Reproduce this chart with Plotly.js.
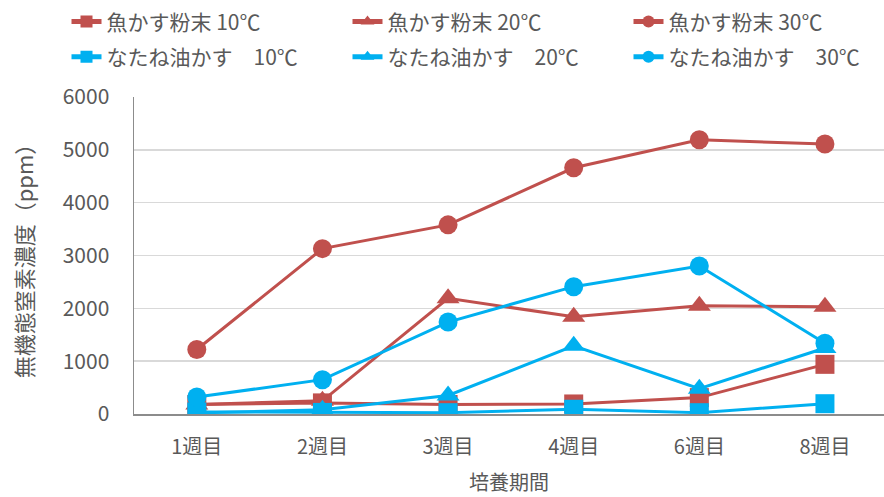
<!DOCTYPE html>
<html>
<head>
<meta charset="utf-8">
<script src="https://cdn.plot.ly/plotly-3.0.1.min.js"></script>
<style>
  html, body { margin: 0; padding: 0; background: #fff; }
  #chart { width: 884px; height: 497px; }
</style>
</head>
<body>
<div id="chart"></div>
<script>
// Culture period (weeks)
const weeks = ['1週目', '2週目', '3週目', '4週目', '6週目', '8週目'];

// Inorganic nitrogen concentration (ppm)
const fishMeal10 = [180, 210, 180, 190, 310, 940];
const fishMeal20 = [180, 250, 2190, 1840, 2050, 2030];
const fishMeal30 = [1220, 3130, 3580, 4660, 5190, 5110];
const rapeseed10 = [40, 30, 25, 90, 25, 195];
const rapeseed20 = [20, 80, 350, 1290, 480, 1250];
const rapeseed30 = [320, 650, 1740, 2410, 2800, 1340];

const seriesNames = [
  '魚かす粉末 10℃', '魚かす粉末 20℃', '魚かす粉末 30℃',
  'なたね油かす　10℃', 'なたね油かす　20℃', 'なたね油かす　30℃'
];

const RED = '#C0504D';
const BLUE = '#00B0F0';
const FONT = '"Noto Sans CJK JP", "Noto Sans", sans-serif';
const TEXT = '#595959';

function series(values, name, color, symbol, legend, itemWidth) {
  return {
    x: weeks, y: values, name: name, type: 'scatter', mode: 'lines+markers',
    line: { color: color, width: 3 },
    marker: { color: color, symbol: symbol, size: symbol === 'triangle-up' ? 20 : 19 },
    legend: legend,
    legendwidth: itemWidth
  };
}

// the last column of each legend row only needs room for its own text
const data = [
  series(fishMeal10, seriesNames[0], RED, 'square', 'legend', 236),
  series(fishMeal20, seriesNames[1], RED, 'triangle-up', 'legend', 236),
  series(fishMeal30, seriesNames[2], RED, 'circle', 'legend', 200),
  series(rapeseed10, seriesNames[3], BLUE, 'square', 'legend2', 236),
  series(rapeseed20, seriesNames[4], BLUE, 'triangle-up', 'legend2', 236),
  series(rapeseed30, seriesNames[5], BLUE, 'circle', 'legend2', 200)
];

const legendBase = {
  orientation: 'h', xanchor: 'left', yanchor: 'middle',
  x: -0.09, entrywidthmode: 'pixels',
  font: { family: FONT, size: 21, color: TEXT },
  bgcolor: 'rgba(0,0,0,0)', itemsizing: 'constant'
};

const layout = {
  width: 884, height: 497,
  margin: { l: 134, r: 0, t: 97, b: 83 },
  paper_bgcolor: '#fff', plot_bgcolor: '#fff',
  font: { family: FONT, size: 21, color: TEXT },
  showlegend: true,
  legend: Object.assign({}, legendBase, { y: 1.237 }),
  legend2: Object.assign({}, legendBase, { y: 1.126 }),
  xaxis: {
    type: 'category', range: [-0.5, 5.47],
    showgrid: false, showline: true, linecolor: '#8C8C8C', linewidth: 1.5,
    ticks: '', tickfont: { family: FONT, size: 20, color: TEXT },
    ticklabelstandoff: 14,
    title: { text: '培養期間', font: { family: FONT, size: 20, color: TEXT }, standoff: 17 },
    fixedrange: true
  },
  yaxis: {
    range: [0, 6000], dtick: 1000, tick0: 0,
    showgrid: true, gridcolor: '#D9D9D9', gridwidth: 1.5,
    showline: true, linecolor: '#8C8C8C', linewidth: 1.5,
    zeroline: false, ticks: '',
    tickfont: { family: FONT, size: 21, color: TEXT },
    ticklabelstandoff: 19,
    title: { text: '無機態窒素濃度（ppm）', font: { family: FONT, size: 22, color: TEXT }, standoff: 23 },
    fixedrange: true
  }
};

Plotly.newPlot('chart', data, layout, { displayModeBar: false, staticPlot: true });
</script>
</body>
</html>
